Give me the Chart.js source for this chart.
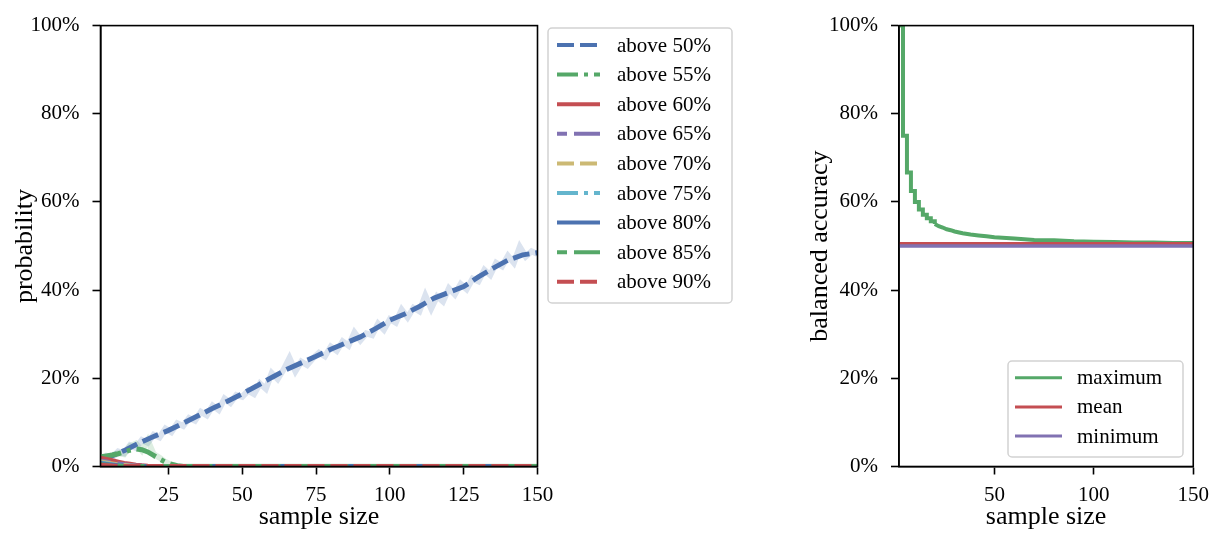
<!DOCTYPE html>
<html>
<head>
<meta charset="utf-8">
<title>Sample size vs accuracy</title>
<script src="https://cdn.jsdelivr.net/npm/chart.js"></script>
<style>
  body { margin: 0; background: #fff; width: 1217px; height: 534px; overflow: hidden; position: relative; }
  .panel { position: absolute; top: 0; }
  #left-panel { left: 0; }
  #right-panel { left: 760px; }
</style>
</head>
<body>
<div class="panel" id="left-panel"><canvas id="prob-chart" width="740" height="534"></canvas></div>
<div class="panel" id="right-panel"><canvas id="acc-chart" width="457" height="534"></canvas></div>
<script>
// ---- data ----
const yTickValues = [0, 20, 40, 60, 80, 100];
const leftXTicks = [25, 50, 75, 100, 125, 150];
const rightXTicks = [50, 100, 150];

// smoothed "above 50%" curve
const smoothX = [2, 5, 10, 15, 20, 25, 30, 35, 40, 45, 50, 55, 60, 65, 70, 75, 80, 85, 90, 95, 100, 105, 110, 115, 120, 125, 130, 135, 140, 145, 150];
const above50 = [1.5, 2.2, 3.6, 5.3, 6.8, 8.2, 9.8, 11.5, 13.2, 14.8, 16.5, 18.3, 20.2, 22.0, 23.5, 25.0, 26.6, 28.0, 29.4, 31.2, 33.2, 34.6, 36.3, 38.2, 39.5, 40.8, 43.0, 45.0, 46.8, 48.0, 48.5];

// raw (light) "above 50%" curve
const rawX = [2, 4, 6, 8, 10, 12, 14, 16, 18, 20, 22, 24, 26, 28, 30, 32, 34, 36, 38, 40, 42, 44, 46, 48, 50, 52, 54, 56, 58, 60, 62, 64, 66, 68, 70, 72, 74, 76, 78, 80, 82, 84, 86, 88, 90, 92, 94, 96, 98, 100, 102, 104, 106, 108, 110, 112, 114, 116, 118, 120, 122, 124, 126, 128, 130, 132, 134, 136, 138, 140, 142, 144, 146, 148, 150];
const raw50 = [1.2, 2.4, 2.0, 3.4, 3.0, 4.8, 4.2, 6.0, 5.4, 7.2, 6.6, 8.6, 7.8, 9.8, 9.2, 11.0, 10.4, 12.4, 11.6, 13.8, 12.8, 15.4, 14.4, 16.2, 15.8, 17.2, 16.4, 18.8, 17.6, 21.2, 19.8, 22.0, 24.6, 21.6, 23.8, 23.0, 24.6, 25.8, 25.0, 27.2, 26.2, 28.4, 27.4, 30.4, 28.6, 30.2, 29.8, 32.4, 31.0, 33.4, 32.6, 35.6, 33.8, 36.0, 35.2, 38.8, 35.8, 38.6, 37.4, 40.4, 39.0, 41.4, 40.2, 42.6, 42.0, 44.6, 43.4, 46.2, 45.4, 47.8, 46.2, 49.8, 47.6, 48.8, 48.2];

// the higher thresholds die out early
const lowX = [2, 4, 6, 8, 10, 12, 14, 16, 18, 20, 22, 24, 26, 28, 30, 150];
const raw55 = [1.8, 2.1, 2.6, 3.0, 2.8, 4.6, 5.2, 3.6, 5.9, 2.8, 2.0, 1.0, 0.4, 0.1, 0, 0];
const above55 = [2.2, 2.4, 2.6, 2.9, 3.3, 3.7, 4.0, 3.8, 3.3, 2.5, 1.7, 1.0, 0.5, 0.2, 0, 0];
const above60 = [1.9, 1.6, 1.3, 1.0, 0.7, 0.5, 0.3, 0.15, 0.05, 0, 0, 0, 0, 0, 0, 0];
const above65 = [1.2, 1.0, 0.8, 0.6, 0.4, 0.25, 0.1, 0.05, 0, 0, 0, 0, 0, 0, 0, 0];
const above70 = [1.0, 0.8, 0.6, 0.4, 0.25, 0.1, 0, 0, 0, 0, 0, 0, 0, 0, 0, 0];
const above75 = [0.8, 0.6, 0.4, 0.25, 0.1, 0, 0, 0, 0, 0, 0, 0, 0, 0, 0, 0];
const above80 = [0.6, 0.45, 0.3, 0.15, 0.05, 0, 0, 0, 0, 0, 0, 0, 0, 0, 0, 0];
const above85 = [0.4, 0.3, 0.2, 0.1, 0, 0, 0, 0, 0, 0, 0, 0, 0, 0, 0, 0];
const above90 = [0.3, 0.2, 0.1, 0.05, 0, 0, 0, 0, 0, 0, 0, 0, 0, 0, 0, 0];

// balanced accuracy: the maximum falls in steps at first, then smoothly
const maxEarlyX = [2, 3, 4, 5, 6, 7, 8, 9, 10, 11, 12, 13, 14, 15, 16, 17, 18, 19, 20];
const maxEarly = [100, 100, 75, 75, 66.7, 66.7, 62.5, 62.5, 60, 60, 58.3, 58.3, 57.1, 57.1, 56.3, 56.3, 55.6, 55.6, 55.0];
const maxLateX = [20, 22, 24, 26, 28, 30, 34, 38, 42, 46, 50, 60, 70, 80, 90, 100, 110, 120, 130, 140, 150];
const maxLate = [55.0, 54.5, 54.2, 53.8, 53.6, 53.3, 52.9, 52.6, 52.4, 52.2, 52.0, 51.7, 51.4, 51.3, 51.1, 51.0, 50.9, 50.8, 50.8, 50.7, 50.7];
const flatX = [2, 150];
const meanAcc = [50.5, 50.5];
const minAcc = [50.0, 50.0];

// ---- styling ----
const BLUE = '#4C72B0', GREEN = '#55A868', RED = '#C44E52', PURPLE = '#8172B2', YELLOW = '#CCB974', CYAN = '#64B5CD';
const DASH = [17, 6], DASHDOT = [21, 6, 4, 6], LONGDASH = [27, 7];
const TICK_FONT = { family: 'Liberation Serif', size: 21 };
const TITLE_FONT = '26px "Liberation Serif"';
const LEGEND_FONT = '21px "Liberation Serif"';

function pts(xs, ys) {
    return xs.map((x, i) => ({ x: x, y: ys[i] }));
}

function line(label, xs, ys, color, dash, width, order, extra) {
    return Object.assign({
        label: label,
        data: pts(xs, ys),
        borderColor: color,
        backgroundColor: color,
        borderWidth: width,
        borderDash: dash,
        borderCapStyle: 'butt',
        pointRadius: 0,
        tension: 0,
        fill: false,
        order: order
    }, extra || {});
}

// frame, axis titles and the matplotlib-like legend box
const decorPlugin = {
    id: 'decor',
    afterDraw(chart, args, opts) {
        const ctx = chart.ctx;
        const a = chart.chartArea;
        ctx.save();
        ctx.strokeStyle = '#000';
        ctx.lineWidth = 1.6;
        ctx.strokeRect(a.left, a.top, a.right - a.left, a.bottom - a.top);

        ctx.fillStyle = '#000';
        ctx.font = TITLE_FONT;
        ctx.textAlign = 'center';
        ctx.textBaseline = 'middle';
        ctx.fillText(opts.xTitle, (a.left + a.right) / 2, opts.xTitleY);
        ctx.translate(opts.yTitleX, (a.top + a.bottom) / 2);
        ctx.rotate(-Math.PI / 2);
        ctx.fillText(opts.yTitle, 0, 0);
        ctx.restore();

        const lg = opts.legend;
        ctx.save();
        ctx.beginPath();
        ctx.roundRect(lg.x, lg.y, lg.w, lg.h, 4);
        ctx.fillStyle = 'rgba(255,255,255,0.85)';
        ctx.fill();
        ctx.strokeStyle = '#d2d2d2';
        ctx.lineWidth = 1.5;
        ctx.stroke();

        const items = chart.data.datasets.filter(d => d.inLegend);
        ctx.font = LEGEND_FONT;
        ctx.textAlign = 'left';
        ctx.textBaseline = 'middle';
        items.forEach((d, i) => {
            const y = lg.firstRow + i * lg.rowStep;
            ctx.beginPath();
            ctx.setLineDash(d.borderDash || []);
            ctx.lineDashOffset = d.borderDashOffset || 0;
            ctx.lineCap = 'butt';
            ctx.strokeStyle = d.borderColor;
            ctx.lineWidth = lg.lineWidth;
            ctx.moveTo(lg.x + lg.lineStart, y);
            ctx.lineTo(lg.x + lg.lineEnd, y);
            ctx.stroke();
            ctx.setLineDash([]);
            ctx.fillStyle = '#000';
            ctx.fillText(d.label, lg.x + lg.textStart, y + 1);
        });
        ctx.restore();
    }
};

function axes(xTicks, yWidth, xHeight) {
    return {
        x: {
            type: 'linear',
            min: 2,
            max: 150,
            afterBuildTicks: s => { s.ticks = xTicks.map(v => ({ value: v })); },
            afterFit: s => { s.height = xHeight; },
            ticks: { font: TICK_FONT, color: '#000', padding: 8, maxRotation: 0 },
            grid: { drawOnChartArea: false, tickLength: 8, tickColor: '#000', tickWidth: 1.6 },
            border: { display: true, color: '#000', width: 1.6 }
        },
        y: {
            min: 0,
            max: 100,
            afterBuildTicks: s => { s.ticks = yTickValues.map(v => ({ value: v })); },
            afterFit: s => { s.width = yWidth; },
            ticks: { font: TICK_FONT, color: '#000', padding: 13, callback: v => v + '%' },
            grid: { drawOnChartArea: false, tickLength: 8, tickColor: '#000', tickWidth: 1.6 },
            border: { display: true, color: '#000', width: 1.6 }
        }
    };
}

const commonOptions = {
    responsive: false,
    animation: false,
    devicePixelRatio: 1,
    plugins: { legend: { display: false }, tooltip: { enabled: false } }
};

// left: probability of exceeding each threshold
new Chart(document.getElementById('prob-chart').getContext('2d'), {
    type: 'line',
    data: {
        datasets: [
            line('', rawX, raw50, 'rgba(76,114,176,0.2)', [], 6, 30),
            line('', lowX, raw55, 'rgba(85,168,104,0.2)', [], 6, 29),
            line('above 50%', smoothX, above50, BLUE, DASH, 5, 20, { inLegend: true }),
            line('above 55%', lowX, above55, GREEN, DASHDOT, 5, 19, { inLegend: true }),
            line('above 60%', lowX, above60, RED, [], 5, 18, { inLegend: true }),
            line('above 65%', lowX, above65, PURPLE, LONGDASH, 5, 17, { inLegend: true, borderDashOffset: 17 }),
            line('above 70%', lowX, above70, YELLOW, DASH, 5, 16, { inLegend: true }),
            line('above 75%', lowX, above75, CYAN, DASHDOT, 5, 15, { inLegend: true }),
            line('above 80%', lowX, above80, BLUE, [], 5, 14, { inLegend: true }),
            line('above 85%', lowX, above85, GREEN, LONGDASH, 5, 13, { inLegend: true, borderDashOffset: 17 }),
            line('above 90%', lowX, above90, RED, DASH, 5, 12, { inLegend: true })
        ]
    },
    options: Object.assign({}, commonOptions, {
        layout: { padding: { left: 0, top: 18, right: 202.5, bottom: 0 } },
        scales: axes(leftXTicks, 100.5, 67.5),
        plugins: Object.assign({}, commonOptions.plugins, {
            decor: {
                xTitle: 'sample size', xTitleY: 517,
                yTitle: 'probability', yTitleX: 25,
                legend: { x: 548, y: 28, w: 184, h: 275, firstRow: 45, rowStep: 29.6, lineStart: 9, lineEnd: 52, textStart: 69, lineWidth: 4 }
            }
        })
    }),
    plugins: [decorPlugin]
});

// right: balanced accuracy
new Chart(document.getElementById('acc-chart').getContext('2d'), {
    type: 'line',
    data: {
        datasets: [
            line('maximum', maxEarlyX, maxEarly, GREEN, [], 4, 4, { inLegend: true, stepped: 'before' }),
            line('', maxLateX, maxLate, GREEN, [], 4, 3),
            line('mean', flatX, meanAcc, RED, [], 3.5, 2, { inLegend: true }),
            line('minimum', flatX, minAcc, PURPLE, [], 3.5, 1, { inLegend: true })
        ]
    },
    options: Object.assign({}, commonOptions, {
        layout: { padding: { left: 0, top: 18, right: 22.7, bottom: 0 } },
        scales: axes(rightXTicks, 139, 67.5),
        plugins: Object.assign({}, commonOptions.plugins, {
            decor: {
                xTitle: 'sample size', xTitleY: 517,
                yTitle: 'balanced accuracy', yTitleX: 60,
                legend: { x: 248, y: 361, w: 175, h: 96, firstRow: 377.7, rowStep: 29.2, lineStart: 7, lineEnd: 54, textStart: 69, lineWidth: 3 }
            }
        })
    }),
    plugins: [decorPlugin]
});
</script>
</body>
</html>
